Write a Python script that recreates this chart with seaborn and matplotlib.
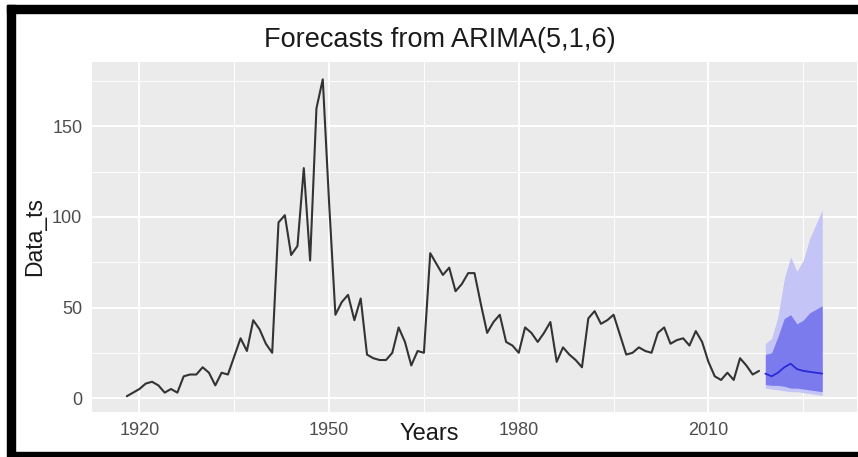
import pandas as pd
import matplotlib.pyplot as plt
import seaborn as sns
from matplotlib.patches import Rectangle
from matplotlib.ticker import MultipleLocator

# observed series, one value per year from 1918
hist_years = list(range(1918, 2019))
hist_values = [
    1, 3, 5, 8, 9, 7, 3, 5, 3, 12,
    13, 13, 17, 14, 7, 14, 13, 23, 33, 26,
    43, 38, 30, 25, 97, 101, 79, 84, 127, 76,
    160, 176, 108, 46, 53, 57, 43, 55, 24, 22,
    21, 21, 25, 39, 31, 18, 26, 25, 80, 74,
    68, 72, 59, 63, 69, 69, 52, 36, 42, 46,
    31, 29, 25, 39, 36, 31, 36, 42, 20, 28,
    24, 21, 17, 44, 48, 41, 43, 46, 35, 24,
    25, 28, 26, 25, 36, 39, 30, 32, 33, 29,
    37, 31, 20, 12, 10, 14, 10, 22, 18, 13,
    15,
]

# forecast h = 10
fc_years = list(range(2019, 2029))
fc_mean = [13.5, 12, 14, 17, 19, 16, 15, 14.5, 14, 13.5]
lo80 = [7.5, 7, 7, 6.5, 5.5, 5.5, 5, 4.5, 4, 3.5]
hi80 = [24, 25, 34, 44, 46, 41, 43, 47, 49, 51]
lo95 = [5.5, 5, 4.5, 4, 3.5, 3.5, 3, 2.5, 2, 1.5]
hi95 = [30, 33, 45, 66, 78, 70, 76, 88, 96, 104]

x_ticks = [1920, 1950, 1980, 2010]
y_ticks = [0, 50, 100, 150]

sns.set_theme(style="darkgrid", rc={
    "axes.facecolor": "#EBEBEB",
    "grid.color": "white",
    "axes.edgecolor": "#EBEBEB",
})
plt.rcParams['font.family'] = ['Liberation Sans', 'DejaVu Sans']

hist = pd.DataFrame({"Years": hist_years, "Data_ts": hist_values})
fc = pd.DataFrame({"Years": fc_years, "mean": fc_mean})

fig = plt.figure(figsize=(8.58, 4.57), dpi=100)
ax = fig.add_axes([92 / 858, 1 - 412 / 457, (857 - 92) / 858, (412 - 62) / 457])

ax.fill_between(fc["Years"], lo95, hi95, color="#c4c4f6", lw=0, zorder=2)
ax.fill_between(fc["Years"], lo80, hi80, color="#7b7bee", lw=0, zorder=3)
sns.lineplot(data=hist, x="Years", y="Data_ts", ax=ax, color="#333333", lw=1.5, zorder=4)
sns.lineplot(data=fc, x="Years", y="mean", ax=ax, color="#2a2ad6", lw=1.3, zorder=5)

ax.set_xlim(1912.5, 2033.5)
ax.set_ylim(-7.7, 185.6)
ax.set_xticks(x_ticks)
ax.set_yticks(y_ticks)
ax.xaxis.set_minor_locator(MultipleLocator(15))
ax.yaxis.set_minor_locator(MultipleLocator(25))
ax.grid(which="major", color="white", lw=1.4)
ax.grid(which="minor", color="white", lw=0.7)
ax.tick_params(axis="both", which="major", length=3.0, width=1.1, color="#333333",
               labelsize=13, labelcolor="#4D4D4D", pad=4)
ax.tick_params(axis="both", which="minor", length=0)
for s in ax.spines.values():
    s.set_visible(False)

ax.set_xlabel("")
ax.set_ylabel("")
fig.text(429 / 858, 1 - 434 / 457, "Years", ha="center", va="center", fontsize=17, color="#1a1a1a")
fig.text(35 / 858, 1 - 237 / 457, "Data_ts", ha="center", va="center", rotation=90,
         fontsize=16.5, color="#1a1a1a")
fig.text(440 / 858, 1 - 40 / 457, "Forecasts from ARIMA(5,1,6)", ha="center", va="center",
         fontsize=19.5, color="#1a1a1a")

# black picture frame (left, top, bottom)
W, H = 858, 457
for x0, y0, w, h in [(7, 5, 8, 447), (7, 5, 851, 8), (7, 452, 851, 5)]:
    fig.patches.append(Rectangle((x0 / W, 1 - (y0 + h) / H), w / W, h / H,
                                 transform=fig.transFigure, color="black", zorder=10))

fig.savefig("out.png", dpi=100)
